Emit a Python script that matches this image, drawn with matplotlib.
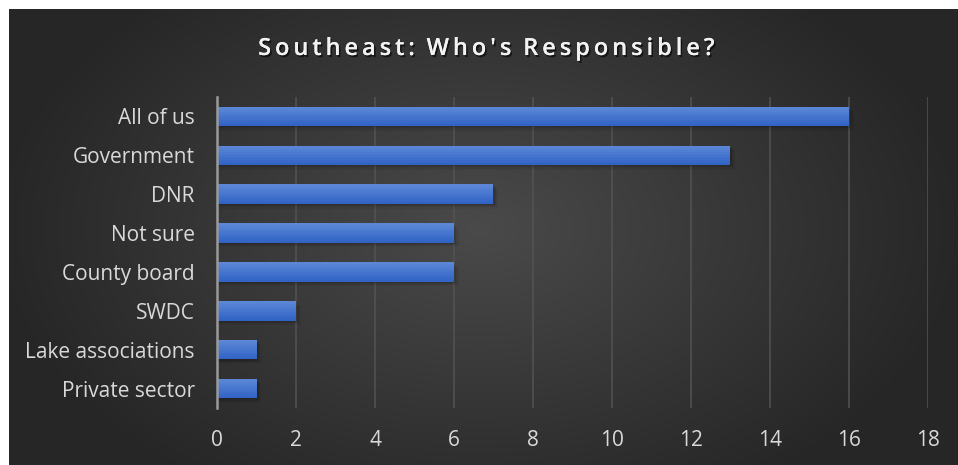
import numpy as np
import matplotlib.pyplot as plt
import matplotlib.patheffects as pe

categories = ["All of us", "Government", "DNR", "Not sure", "County board",
              "SWDC", "Lake associations", "Private sector"]
values = [16, 13, 7, 6, 6, 2, 1, 1]
xticks = [0, 2, 4, 6, 8, 10, 12, 14, 16, 18]

W, H = 958, 465
fig = plt.figure(figsize=(W / 100, H / 100), dpi=100, facecolor="white")

# dark radial-gradient background panel
bg = fig.add_axes([9 / W, 0, 1 - 9 / W, 1 - 9 / H])
bg.set_axis_off()
yy, xx = np.mgrid[0:456, 0:949]
r = np.sqrt(((xx - 470) / 520.0) ** 2 + ((yy - 220) / 330.0) ** 2)
shade = np.clip(0.29 - 0.15 * r, 0.15, 0.29)
bg.imshow(np.dstack([shade] * 3), aspect="auto", extent=[0, 1, 0, 1])
bg.set_xlim(0, 1)
bg.set_ylim(0, 1)

ax = fig.add_axes([217 / W, 1 - 408 / H, (928 - 217) / W, 311 / H])
ax.patch.set_alpha(0)
y = np.arange(len(categories))
vals = np.array(values)

# soft shadow under bars
for k, a in enumerate([0.09, 0.07, 0.05, 0.04]):
    off = 0.03 + 0.03 * k
    ax.barh(y + off, vals + 0.03 * (k + 1), height=0.5,
            color="black", alpha=a, zorder=2, lw=0)

# vertical gradient inside each bar, drawn as thin slices
top = np.array([0x5e, 0x89, 0xd8]) / 255
bot = np.array([0x2f, 0x62, 0xc4]) / 255
n = 12
for i in range(n):
    t = (i + 0.5) / n
    c = top * (1 - t) + bot * t
    ax.barh(y - 0.25 + (i + 0.5) * 0.5 / n, vals, height=0.5 / n + 0.003,
            color=c, zorder=3, lw=0)

ax.set_xlim(0, 18)
ax.set_ylim(len(categories) - 0.5, -0.5)
ax.set_xticks(xticks)
ax.set_yticks(y)
ax.set_yticklabels(categories)
ax.grid(axis="x", color="#535353", lw=1.1, zorder=1)
for s in ["top", "right", "bottom"]:
    ax.spines[s].set_visible(False)
ax.spines["left"].set_color("#9a9a9a")
ax.spines["left"].set_linewidth(1.8)
ax.spines["left"].set_zorder(5)
ax.tick_params(length=0, colors="#d9d9d9", labelsize=15, pad=16)
for lab in ax.get_xticklabels() + ax.get_yticklabels():
    lab.set_family("Open Sans")

title = "Southeast: Who's Responsible?"
spaced = "\u2006".join(title).replace("\u2006 \u2006", "\u2002")
fig.text(487 / W, 1 - 49 / H, spaced,
         ha="center", va="center", color="#f2f2f2", fontsize=17, fontweight="semibold",
         family=["Open Sans", "DejaVu Sans"],
         path_effects=[pe.withSimplePatchShadow(offset=(1.2, -1.5), alpha=0.6,
                                                shadow_rgbFace="black"), pe.Normal()])

fig.savefig("out.png", dpi=100, facecolor="white")
